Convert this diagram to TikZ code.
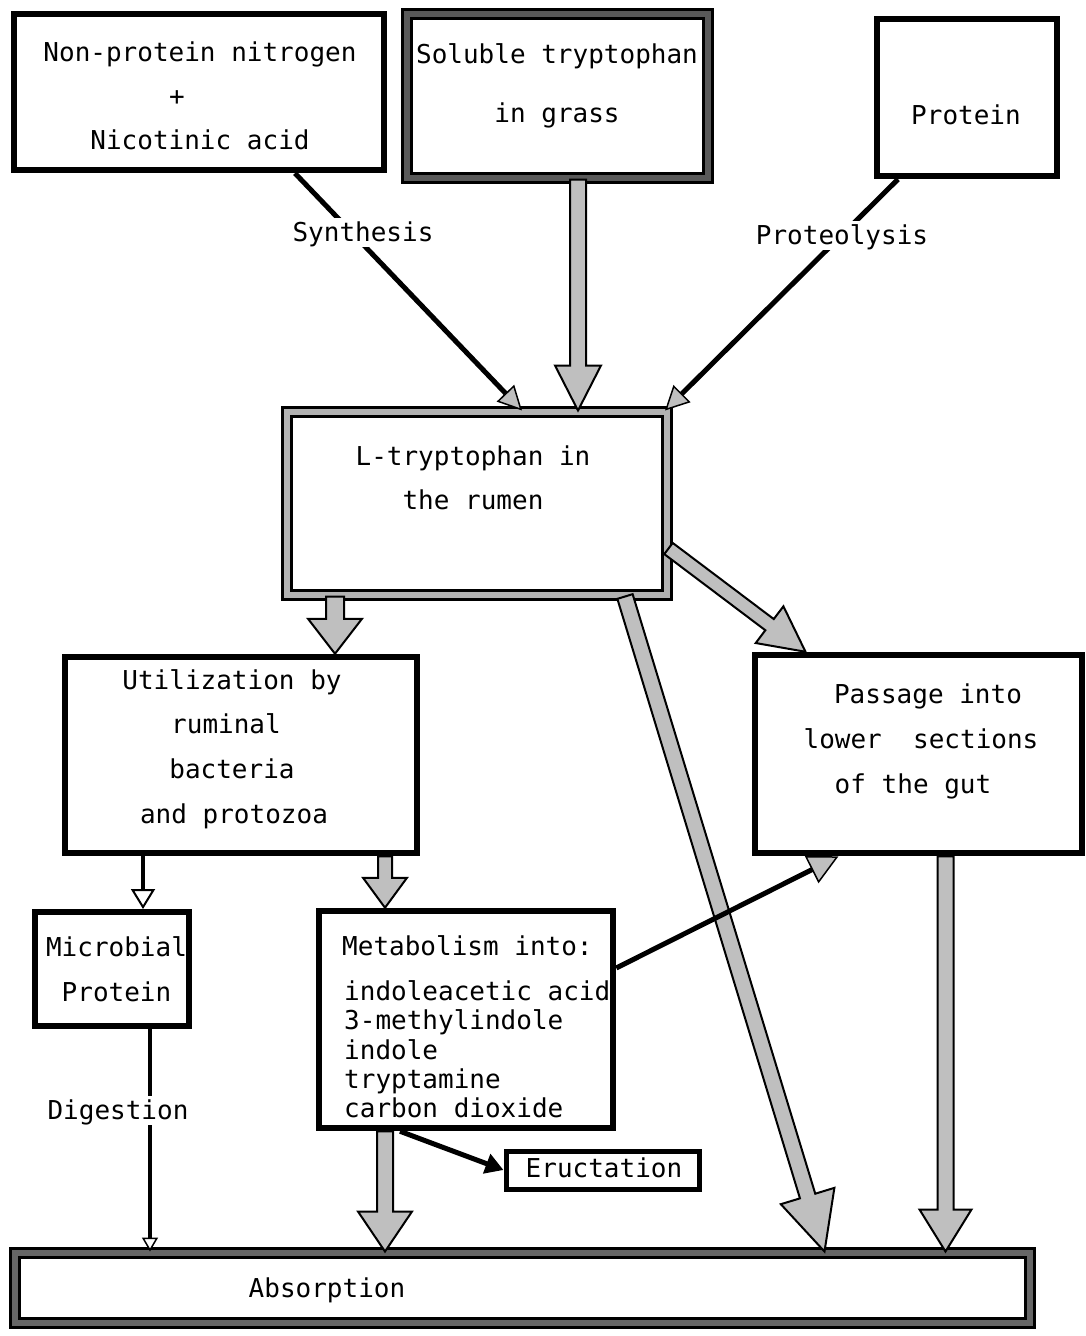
\documentclass[tikz,border=0pt]{standalone}
\usepackage{fontspec}
\setmonofont{DejaVu Sans Mono}
\usetikzlibrary{arrows.meta,calc}

\newcommand\fatarrow[5]{%
  \path #1 coordinate (faS);
  \path #2 coordinate (faE);
  \coordinate (faH) at ($(faE)!#5!(faS)$);
  \filldraw[fatarrowstyle] ($(faS)!#3!90:(faE)$) -- ($(faH)!#3!90:(faE)$) -- ($(faH)!#4!90:(faE)$) -- (faE) -- ($(faH)!#4!-90:(faE)$) -- ($(faH)!#3!-90:(faE)$) -- ($(faS)!#3!-90:(faE)$) -- cycle;
}

\tikzset{
  fatarrowstyle/.style={fill=gray!50, draw=black, line width=2pt, line join=miter},
  box/.style={draw=black, line width=6.5pt, rectangle, inner sep=0pt, fill=white},
  dbox/.style={draw=black, line width=3pt, double=gray!60, double distance=6pt, rectangle, inner sep=0pt, fill=white},
  txt/.style={font=\ttfamily\fontsize{26}{30}\selectfont, inner sep=0pt, text height=19pt, text depth=0pt},
  lbl/.style={txt, fill=white, inner sep=5pt},
  thinA/.style={line width=5pt, -{Triangle[length=24pt,width=24pt,fill=gray!50,line width=1.5pt]}},
}

\begin{document}
\begin{tikzpicture}[x=1pt, y=-1pt]
\useasboundingbox (0,0) rectangle (1085,1336);

% boxes
\node[box, minimum width=370pt, minimum height=156pt] (npn) at (199,92) {};
\node[dbox, double=black!65, minimum width=301pt, minimum height=164pt] (sol) at (557.5,96) {};
\node[box, minimum width=180pt, minimum height=157pt] (prot) at (967,97.5) {};
\node[dbox, minimum width=380pt, minimum height=183pt] (ltr) at (477,503.5) {};
\node[box, minimum width=352pt, minimum height=196pt] (util) at (241,755) {};
\node[box, minimum width=327pt, minimum height=198pt] (pas) at (918.5,754) {};
\node[box, line width=6pt, minimum width=154pt, minimum height=114pt] (mic) at (112,969) {};
\node[box, minimum width=294pt, minimum height=217pt] (met) at (466,1019.5) {};
\node[box, line width=5pt, minimum width=193pt, minimum height=38pt] (eru) at (602.5,1170) {};
\node[dbox, double=black!60, minimum width=1015pt, minimum height=70pt] (abs) at (522.5,1288) {};

% texts
\node[txt] (t1) at (200,52) {Non-protein nitrogen};
\node[txt] (t2) at (177,96) {+};
\node[txt] (t3) at (200,140) {Nicotinic acid};
\node[txt] (t4) at (557,54) {Soluble tryptophan};
\node[txt] (t5) at (557,113) {in grass};
\node[txt] (t6) at (966,115) {Protein};
\node[txt] (t7) at (473,456) {L-tryptophan in};
\node[txt] (t8) at (473,500) {the rumen};
\node[txt] (t9) at (232,680) {Utilization by};
\node[txt] (t10) at (226,724) {ruminal};
\node[txt] (t11) at (232,769) {bacteria};
\node[txt] (t12) at (234,814) {and protozoa};
\node[txt] (t13) at (928,694) {Passage into};
\node[txt] (t14) at (921,739) {lower\ \ sections};
\node[txt] (t15) at (913,784) {of the gut};
\node[txt] (t16) at (116.5,947) {Microbial};
\node[txt] (t17) at (116.5,992) {Protein};
\node[txt, anchor=west] (t18) at (342,946) {Metabolism into:};
\node[txt, anchor=west] (t19) at (344,991) {indoleacetic acid};
\node[txt, anchor=west] (t20) at (344,1020) {3-methylindole};
\node[txt, anchor=west] (t21) at (344,1050) {indole};
\node[txt, anchor=west] (t22) at (344,1079) {tryptamine};
\node[txt, anchor=west] (t23) at (344,1108) {carbon dioxide};
\node[txt] (t24) at (604,1168) {Eructation};
\node[txt] (t25) at (327,1288) {Absorption};

% fat arrows
\fatarrow{([xshift=20.5pt]sol.south)}{(faS |- ltr.north)}{8pt}{23pt}{45pt}
\fatarrow{([xshift=-142pt]ltr.south)}{(faS |- util.north)}{9pt}{27pt}{35pt}
\fatarrow{([yshift=-45pt]ltr.east)}{([xshift=-113pt]pas.north)}{7pt}{23pt}{45pt}
\fatarrow{([xshift=148pt]ltr.south)}{([xshift=302pt]abs.north)}{8pt}{28pt}{58pt}
\fatarrow{([xshift=144pt]util.south)}{(faS |- met.north)}{7pt}{22pt}{30pt}
\fatarrow{([xshift=-81pt]met.south)}{(faS |- abs.north)}{8pt}{27pt}{40pt}
\fatarrow{([xshift=27pt]pas.south)}{(faS |- abs.north)}{8pt}{26pt}{42pt}

% thin arrows
\draw[thinA] ([xshift=96pt]npn.south) -- ([xshift=45pt]ltr.north);
\node[lbl] (syn) at (363,232) {Synthesis};
\draw[thinA] ([xshift=-69pt]prot.south) -- ([xshift=188pt]ltr.north);
\node[lbl] (prl) at (842,235) {Proteolysis};

\draw[line width=4pt, -{Triangle[length=20pt,width=24pt,fill=white,line width=2pt]}]
  ([xshift=-98pt]util.south) -- ([xshift=-98pt]util.south |- mic.north);
\draw[line width=4pt, -{Triangle[length=14pt,width=16pt,fill=white,line width=1.5pt]}]
  ([xshift=38pt]mic.south) -- ([xshift=38pt]mic.south |- abs.north);
\node[lbl] (dig) at (118,1110) {Digestion};

\draw[line width=5pt, -{Triangle[length=30pt,width=30pt,fill=gray!50,line width=1.5pt]}]
  ([yshift=51.5pt]met.east) -- ([xshift=-80pt]pas.south);
\draw[line width=5pt, -{Triangle[length=18pt,width=20pt,fill=black]}]
  ([xshift=-66pt]met.south) -- (eru.west);
\end{tikzpicture}
\end{document}
